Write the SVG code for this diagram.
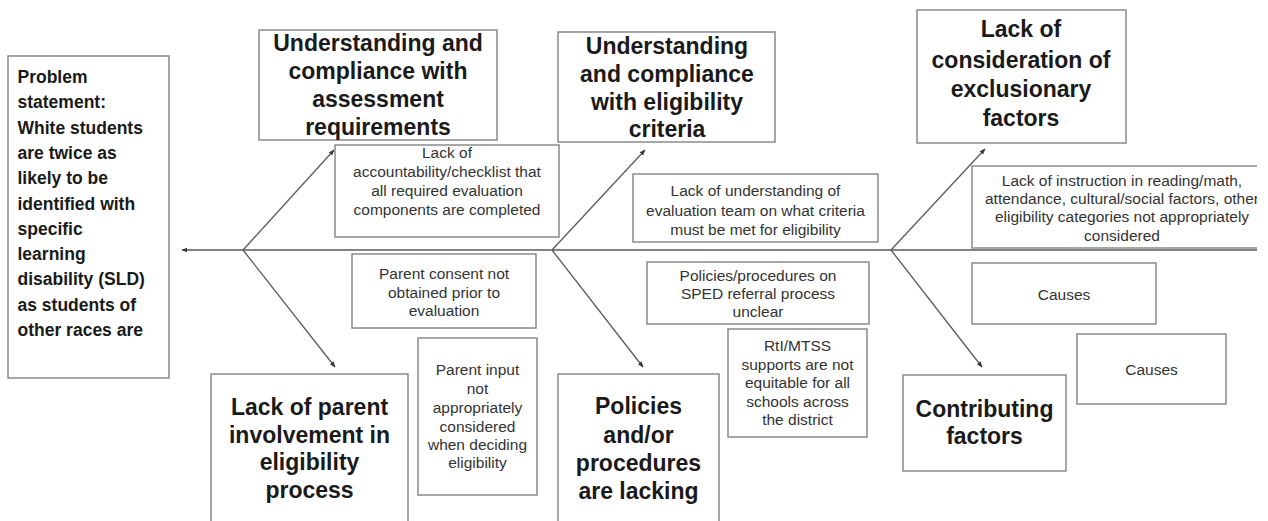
<svg xmlns="http://www.w3.org/2000/svg" width="1268" height="521" viewBox="0 0 1268 521">
  <style>
    .box { fill: #ffffff; stroke: #8a8a8a; stroke-width: 1.5; }
    .head { font-family: "Liberation Sans", Arial, sans-serif; font-weight: bold; font-size: 23px; fill: #1a1a1a; text-anchor: middle; }
    .problem { font-family: "Liberation Sans", Arial, sans-serif; font-weight: bold; font-size: 17.5px; fill: #1a1a1a; }
    .cause { font-family: "Liberation Sans", Arial, sans-serif; font-size: 15.5px; fill: #333333; text-anchor: middle; }
    .bone { stroke: #5a5a5a; stroke-width: 1.3; fill: none; }
  </style>
  <defs>
    <marker id="arrow" viewBox="0 0 10 10" refX="9" refY="5" markerWidth="6" markerHeight="6" orient="auto" markerUnits="userSpaceOnUse">
      <path d="M0,1 L10,5 L0,9 Z" fill="#3a3a3a"/>
    </marker>
    <clipPath id="page">
      <rect x="0" y="0" width="1257" height="521"/>
    </clipPath>
  </defs>
  <rect width="1268" height="521" fill="#ffffff"/>

  <!-- fishbone skeleton -->
  <g id="connectors" clip-path="url(#page)">
    <line class="bone" x1="1268" y1="250" x2="182" y2="250" marker-end="url(#arrow)"/>
    <line class="bone" x1="243" y1="250" x2="334" y2="150" marker-end="url(#arrow)"/>
    <line class="bone" x1="243" y1="250" x2="335" y2="367" marker-end="url(#arrow)"/>
    <line class="bone" x1="552" y1="250" x2="645" y2="150" marker-end="url(#arrow)"/>
    <line class="bone" x1="552" y1="250" x2="643" y2="367" marker-end="url(#arrow)"/>
    <line class="bone" x1="891" y1="250" x2="985" y2="149" marker-end="url(#arrow)"/>
    <line class="bone" x1="891" y1="250" x2="982" y2="367" marker-end="url(#arrow)"/>
  </g>

  <!-- problem statement -->
  <g id="problem">
    <rect class="box" x="8" y="56" width="161" height="322"/>
    <text class="problem" x="17.5" y="83">Problem</text>
    <text class="problem" x="17.5" y="108.3">statement:</text>
    <text class="problem" x="17.5" y="133.6">White students</text>
    <text class="problem" x="17.5" y="158.9">are twice as</text>
    <text class="problem" x="17.5" y="184.2">likely to be</text>
    <text class="problem" x="17.5" y="209.5">identified with</text>
    <text class="problem" x="17.5" y="234.8">specific</text>
    <text class="problem" x="17.5" y="260.1">learning</text>
    <text class="problem" x="17.5" y="285.4">disability (SLD)</text>
    <text class="problem" x="17.5" y="310.7">as students of</text>
    <text class="problem" x="17.5" y="336">other races are</text>
  </g>

  <!-- category heads -->
  <g id="cat-assessment">
    <rect class="box" x="259" y="30" width="238" height="110"/>
    <text class="head" x="378" y="51">Understanding and</text>
    <text class="head" x="378" y="79">compliance with</text>
    <text class="head" x="378" y="107">assessment</text>
    <text class="head" x="378" y="135">requirements</text>
  </g>
  <g id="cat-eligibility">
    <rect class="box" x="558" y="32" width="217" height="110"/>
    <text class="head" x="667" y="54">Understanding</text>
    <text class="head" x="667" y="82">and compliance</text>
    <text class="head" x="667" y="110">with eligibility</text>
    <text class="head" x="667" y="137">criteria</text>
  </g>
  <g id="cat-exclusionary">
    <rect class="box" x="917" y="10" width="209" height="133"/>
    <text class="head" x="1021" y="37">Lack of</text>
    <text class="head" x="1021" y="68">consideration of</text>
    <text class="head" x="1021" y="97">exclusionary</text>
    <text class="head" x="1021" y="126">factors</text>
  </g>
  <g id="cat-parent">
    <rect class="box" x="211" y="374" width="197" height="160"/>
    <text class="head" x="309.5" y="415">Lack of parent</text>
    <text class="head" x="309.5" y="443">involvement in</text>
    <text class="head" x="309.5" y="470">eligibility</text>
    <text class="head" x="309.5" y="498">process</text>
  </g>
  <g id="cat-policies">
    <rect class="box" x="558" y="374" width="161" height="160"/>
    <text class="head" x="638.5" y="414">Policies</text>
    <text class="head" x="638.5" y="443">and/or</text>
    <text class="head" x="638.5" y="471">procedures</text>
    <text class="head" x="638.5" y="499">are lacking</text>
  </g>
  <g id="cat-contributing">
    <rect class="box" x="903" y="375" width="163" height="96"/>
    <text class="head" x="984.5" y="417">Contributing</text>
    <text class="head" x="984.5" y="444">factors</text>
  </g>

  <!-- causes -->
  <g id="cause-checklist">
    <rect class="box" x="335" y="145" width="224" height="92"/>
    <text class="cause" x="447" y="158">Lack of</text>
    <text class="cause" x="447" y="177">accountability/checklist that</text>
    <text class="cause" x="447" y="196">all required evaluation</text>
    <text class="cause" x="447" y="215">components are completed</text>
  </g>
  <g id="cause-team">
    <rect class="box" x="633" y="174" width="245" height="68"/>
    <text class="cause" x="755.5" y="196">Lack of understanding of</text>
    <text class="cause" x="755.5" y="216">evaluation team on what criteria</text>
    <text class="cause" x="755.5" y="235">must be met for eligibility</text>
  </g>
  <g id="cause-consent">
    <rect class="box" x="352" y="254" width="184" height="74"/>
    <text class="cause" x="444" y="279">Parent consent not</text>
    <text class="cause" x="444" y="298">obtained prior to</text>
    <text class="cause" x="444" y="316">evaluation</text>
  </g>
  <g id="cause-input">
    <rect class="box" x="418" y="338" width="119" height="157"/>
    <text class="cause" x="477.5" y="375">Parent input</text>
    <text class="cause" x="477.5" y="394">not</text>
    <text class="cause" x="477.5" y="413">appropriately</text>
    <text class="cause" x="477.5" y="432">considered</text>
    <text class="cause" x="477.5" y="450">when deciding</text>
    <text class="cause" x="477.5" y="468">eligibility</text>
  </g>
  <g id="cause-referral">
    <rect class="box" x="647" y="262" width="222" height="62"/>
    <text class="cause" x="758" y="281">Policies/procedures on</text>
    <text class="cause" x="758" y="299">SPED referral process</text>
    <text class="cause" x="758" y="317">unclear</text>
  </g>
  <g id="cause-mtss">
    <rect class="box" x="728" y="329" width="139" height="108"/>
    <text class="cause" x="797.5" y="351">RtI/MTSS</text>
    <text class="cause" x="797.5" y="370">supports are not</text>
    <text class="cause" x="797.5" y="388">equitable for all</text>
    <text class="cause" x="797.5" y="407">schools across</text>
    <text class="cause" x="797.5" y="425">the district</text>
  </g>
  <g id="cause-instruction" clip-path="url(#page)">
    <rect class="box" x="972" y="166" width="300" height="82"/>
    <text class="cause" x="1122" y="186">Lack of instruction in reading/math,</text>
    <text class="cause" x="1122" y="204">attendance, cultural/social factors, other</text>
    <text class="cause" x="1122" y="222">eligibility categories not appropriately</text>
    <text class="cause" x="1122" y="241">considered</text>
  </g>
  <g id="cause-a">
    <rect class="box" x="972" y="263" width="184" height="61"/>
    <text class="cause" x="1064" y="300">Causes</text>
  </g>
  <g id="cause-b">
    <rect class="box" x="1077" y="334" width="149" height="70"/>
    <text class="cause" x="1151.5" y="375">Causes</text>
  </g>
</svg>
